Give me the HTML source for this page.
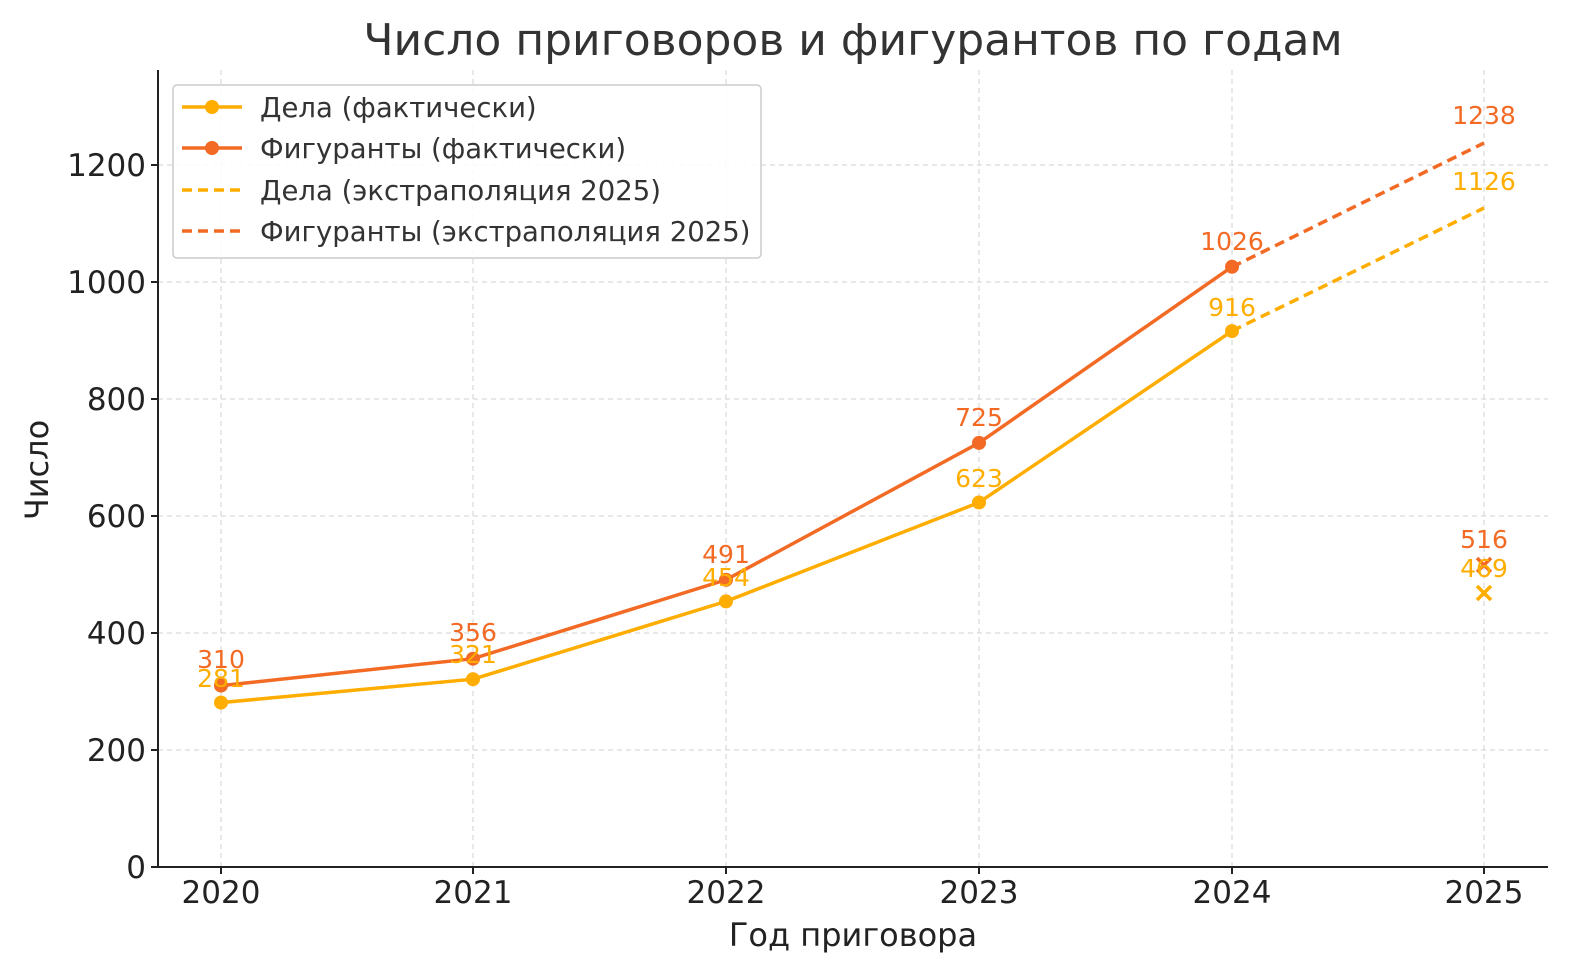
<!DOCTYPE html>
<html><head><meta charset="utf-8"><style>body{margin:0;background:#fff}svg{display:block}text{font-family:"DejaVu Sans","Liberation Sans",sans-serif}</style></head><body>
<svg width="1580" height="980" viewBox="0 0 1580 980" xmlns="http://www.w3.org/2000/svg">
<rect width="1580" height="980" fill="#fff"/>
<g stroke="#d0d0d0" stroke-width="1" stroke-dasharray="5,4">
<line x1="158" x2="1548" y1="750" y2="750"/><line x1="158" x2="1548" y1="633" y2="633"/><line x1="158" x2="1548" y1="516" y2="516"/><line x1="158" x2="1548" y1="399" y2="399"/><line x1="158" x2="1548" y1="282" y2="282"/><line x1="158" x2="1548" y1="165" y2="165"/>
<line x1="221" x2="221" y1="70" y2="867"/><line x1="473" x2="473" y1="70" y2="867"/><line x1="726" x2="726" y1="70" y2="867"/><line x1="979" x2="979" y1="70" y2="867"/><line x1="1232" x2="1232" y1="70" y2="867"/><line x1="1484" x2="1484" y1="70" y2="867"/>
</g>
<g stroke="#222" stroke-width="2" fill="none"><polyline points="158,70 158,867 1548,867"/>
<line x1="151" x2="158" y1="867" y2="867"/><line x1="151" x2="158" y1="750" y2="750"/><line x1="151" x2="158" y1="633" y2="633"/><line x1="151" x2="158" y1="516" y2="516"/><line x1="151" x2="158" y1="399" y2="399"/><line x1="151" x2="158" y1="282" y2="282"/><line x1="151" x2="158" y1="165" y2="165"/>
<line x1="221" x2="221" y1="867" y2="874"/><line x1="473" x2="473" y1="867" y2="874"/><line x1="726" x2="726" y1="867" y2="874"/><line x1="979" x2="979" y1="867" y2="874"/><line x1="1232" x2="1232" y1="867" y2="874"/><line x1="1484" x2="1484" y1="867" y2="874"/></g>
<g font-size="31" fill="#222" text-anchor="end"><text x="146" y="878">0</text><text x="146" y="761">200</text><text x="146" y="644">400</text><text x="146" y="527">600</text><text x="146" y="410">800</text><text x="146" y="293">1000</text><text x="146" y="176">1200</text></g>
<g font-size="31" fill="#222" text-anchor="middle"><text x="221" y="903">2020</text><text x="473" y="903">2021</text><text x="726" y="903">2022</text><text x="979" y="903">2023</text><text x="1232" y="903">2024</text><text x="1484" y="903">2025</text>
<text x="853" y="946" font-size="32">Год приговора</text><text x="853" y="55" font-size="44" fill="#333">Число приговоров и фигурантов по годам</text>
<text transform="translate(48,470) rotate(-90)" font-size="32">Число</text></g>
<g stroke-width="3.5" fill="none" stroke-dasharray="10,6"><polyline stroke="#ffad00" points="1232,331 1484,208"/><polyline stroke="#f26a24" points="1232,267 1484,143"/></g>
<polyline fill="none" stroke="#ffad00" stroke-width="3.5" points="221,702.6 473,679.2 726,601.4 979,502.5 1232,331.1"/>
<polyline fill="none" stroke="#f26a24" stroke-width="3.5" points="221,685.6 473,658.7 726,579.8 979,442.9 1232,266.8"/>
<g fill="#ffad00"><circle cx="221" cy="702.6" r="7"/><circle cx="473" cy="679.2" r="7"/><circle cx="726" cy="601.4" r="7"/><circle cx="979" cy="502.5" r="7"/><circle cx="1232" cy="331.1" r="7"/></g>
<g fill="#f26a24"><circle cx="221" cy="685.6" r="7"/><circle cx="473" cy="658.7" r="7"/><circle cx="726" cy="579.8" r="7"/><circle cx="979" cy="442.9" r="7"/><circle cx="1232" cy="266.8" r="7"/></g>
<g stroke-width="3.5"><path d="M1477,558 l14,14 M1491,558 l-14,14" stroke="#f26a24"/><path d="M1477,586 l14,14 M1491,586 l-14,14" stroke="#ffad00"/></g>
<g font-size="25" text-anchor="middle" fill="#f26a24"><text x="221" y="668">310</text><text x="473" y="641">356</text><text x="726" y="563">491</text><text x="979" y="426">725</text><text x="1232" y="250">1026</text><text x="1484" y="124">1238</text><text x="1484" y="548">516</text></g>
<g font-size="25" text-anchor="middle" fill="#ffad00"><text x="221" y="687">281</text><text x="473" y="663">321</text><text x="726" y="586">454</text><text x="979" y="487">623</text><text x="1232" y="316">916</text><text x="1484" y="190">1126</text><text x="1484" y="577">469</text></g>
<rect x="173" y="85" width="588" height="173" rx="4" fill="#fff" fill-opacity="0.85" stroke="#ccc" stroke-width="1.5"/>
<g stroke-width="3.5"><line x1="182" x2="242" y1="107" y2="107" stroke="#ffad00"/><line x1="182" x2="242" y1="148" y2="148" stroke="#f26a24"/><line x1="182" x2="242" y1="190" y2="190" stroke="#ffad00" stroke-dasharray="10,6"/><line x1="182" x2="242" y1="231" y2="231" stroke="#f26a24" stroke-dasharray="10,6"/></g>
<circle cx="212" cy="107" r="7" fill="#ffad00"/><circle cx="212" cy="148" r="7" fill="#f26a24"/>
<g font-size="27.5" fill="#333"><text x="260" y="117">Дела (фактически)</text><text x="260" y="158">Фигуранты (фактически)</text><text x="260" y="200">Дела (экстраполяция 2025)</text><text x="260" y="241">Фигуранты (экстраполяция 2025)</text></g>
</svg>
</body></html>
